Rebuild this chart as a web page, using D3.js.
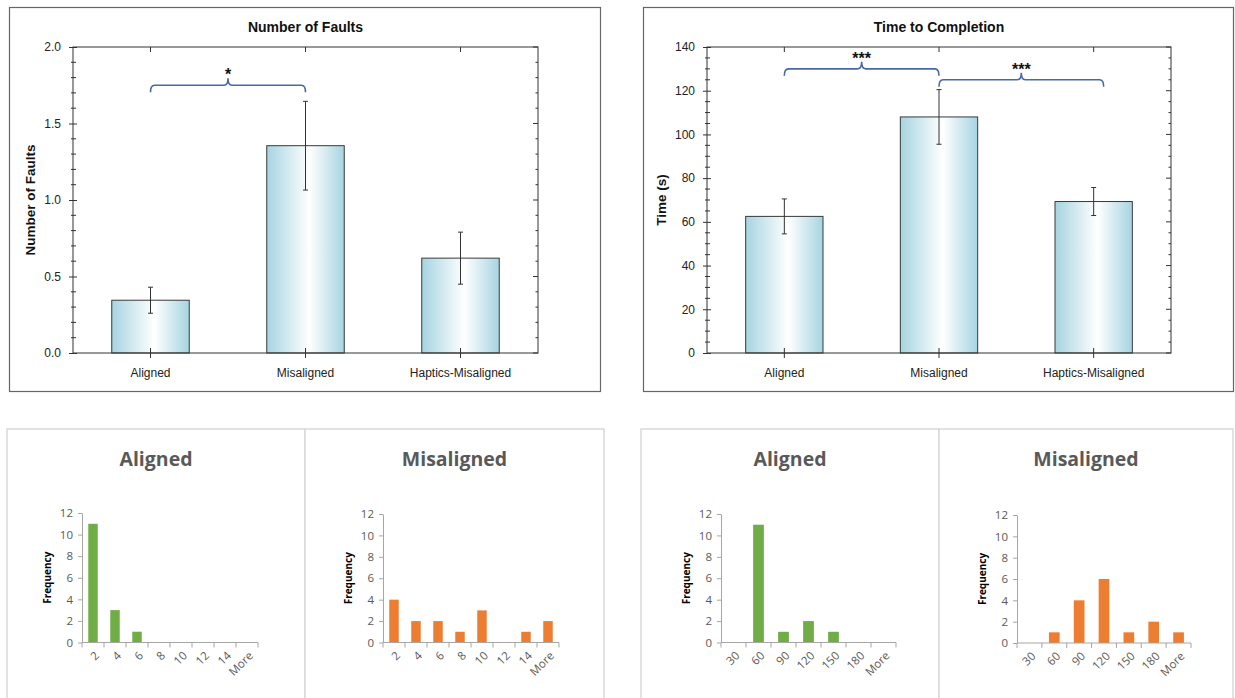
<!DOCTYPE html>
<html>
<head>
<meta charset="utf-8">
<script src="https://cdn.jsdelivr.net/npm/d3@7"></script>
<style>
  html, body { margin: 0; padding: 0; background: #fff; }
  svg { display: block; }
</style>
</head>
<body>
<svg id="chart" width="1235" height="698"></svg>
<script>
// ---- Summary bar charts (mean ± SE) ----
const conditions = ["Aligned", "Misaligned", "Haptics-Misaligned"];
const faultMeans = [0.345, 1.355, 0.62];
const faultErrors = [0.085, 0.29, 0.17];
const faultTicks = [0, 0.5, 1.0, 1.5, 2.0];
const timeMeans = [62.5, 108, 69.3];
const timeErrors = [8, 12.5, 6.4];
const timeTicks = [0, 20, 40, 60, 80, 100, 120, 140];

// significance brackets: from / to condition index, height in data units
const faultBrackets = [{ from: 0, to: 1, level: 1.75, label: "*" }];
const timeBrackets = [
  { from: 0, to: 1, level: 130, label: "***" },
  { from: 1, to: 2, level: 125, label: "***" }
];

// ---- Histograms ----
const faultBins = ["2", "4", "6", "8", "10", "12", "14", "More"];
const faultAlignedFreq = [11, 3, 1, 0, 0, 0, 0, 0];
const faultMisalignedFreq = [4, 2, 2, 1, 3, 0, 1, 2];
const timeBins = ["30", "60", "90", "120", "150", "180", "More"];
const timeAlignedFreq = [0, 11, 1, 2, 1, 0, 0];
const timeMisalignedFreq = [0, 1, 4, 6, 1, 2, 1];
const freqTicks = [0, 2, 4, 6, 8, 10, 12];

const svg = d3.select("#chart");

// horizontal glassy gradient used for the summary bars
const grad = svg.append("defs").append("linearGradient")
  .attr("id", "barGrad").attr("x1", "0%").attr("x2", "100%").attr("y1", "0%").attr("y2", "0%");
grad.append("stop").attr("offset", "0%").attr("stop-color", "#a6d4e1");
grad.append("stop").attr("offset", "55%").attr("stop-color", "#ffffff");
grad.append("stop").attr("offset", "100%").attr("stop-color", "#a6d4e1");

function summaryChart(cfg) {
  const g = svg.append("g");
  // outer frame
  g.append("rect").attr("x", cfg.frame[0] + 0.5).attr("y", cfg.frame[1] + 0.5)
    .attr("width", cfg.frame[2]).attr("height", cfg.frame[3])
    .attr("fill", "none").attr("stroke", "#666").attr("stroke-width", 1.2);

  const left = cfg.plot[0], right = cfg.plot[1], top = cfg.plot[2], bottom = cfg.plot[3];
  const x = d3.scaleBand().domain(conditions).range([left, right])
    .paddingInner(0.5).paddingOuter(0.25);
  const y = d3.scaleLinear().domain(cfg.domain).range([bottom, top]);
  const cx = d => x(d) + x.bandwidth() / 2;

  // bars
  g.selectAll("rect.bar").data(conditions).join("rect")
    .attr("class", "bar")
    .attr("x", d => x(d)).attr("width", x.bandwidth())
    .attr("y", (d, i) => y(cfg.means[i]))
    .attr("height", (d, i) => y(0) - y(cfg.means[i]))
    .attr("fill", "url(#barGrad)").attr("stroke", "#3a3a3a").attr("stroke-width", 1);

  // error bars
  const eb = g.selectAll("g.err").data(conditions).join("g").attr("class", "err")
    .attr("stroke", "#333").attr("stroke-width", 1);
  eb.append("line").attr("x1", cx).attr("x2", cx)
    .attr("y1", (d, i) => y(cfg.means[i] + cfg.errors[i]))
    .attr("y2", (d, i) => y(cfg.means[i] - cfg.errors[i]));
  eb.append("line").attr("x1", d => cx(d) - 2.5).attr("x2", d => cx(d) + 2.5)
    .attr("y1", (d, i) => y(cfg.means[i] + cfg.errors[i]))
    .attr("y2", (d, i) => y(cfg.means[i] + cfg.errors[i]));
  eb.append("line").attr("x1", d => cx(d) - 2.5).attr("x2", d => cx(d) + 2.5)
    .attr("y1", (d, i) => y(cfg.means[i] - cfg.errors[i]))
    .attr("y2", (d, i) => y(cfg.means[i] - cfg.errors[i]));

  // plot box lines
  g.append("rect").attr("x", left).attr("y", top).attr("width", right - left).attr("height", bottom - top)
    .attr("fill", "none").attr("stroke", "#333").attr("stroke-width", 1);

  // left axis: major ticks with labels, crossing the spine
  const yl = g.append("g").attr("transform", `translate(${left},0)`)
    .call(d3.axisLeft(y).tickValues(cfg.ticks).tickFormat(cfg.fmt).tickSize(4).tickPadding(8));
  yl.select(".domain").remove();
  yl.selectAll(".tick line").attr("x1", -4).attr("x2", 4).attr("stroke", "#333");
  yl.selectAll(".tick text").attr("font-family", "Liberation Sans, Arial, sans-serif")
    .attr("font-size", 12).attr("fill", "#222");
  // minor ticks
  const minors = d3.range(cfg.domain[0], cfg.domain[1] + cfg.minor / 2, cfg.minor)
    .filter(v => !cfg.ticks.some(t => Math.abs(t - v) < cfg.minor / 10));
  g.selectAll("line.minorL").data(minors).join("line").attr("class", "minorL")
    .attr("x1", left - 2).attr("x2", left + 3).attr("y1", d => y(d)).attr("y2", d => y(d))
    .attr("stroke", "#333");
  // right mirror ticks
  g.selectAll("line.majorR").data(cfg.ticks).join("line").attr("class", "majorR")
    .attr("x1", right - 5).attr("x2", right).attr("y1", d => y(d)).attr("y2", d => y(d))
    .attr("stroke", "#333");
  g.selectAll("line.minorR").data(minors).join("line").attr("class", "minorR")
    .attr("x1", right - 2.5).attr("x2", right).attr("y1", d => y(d)).attr("y2", d => y(d))
    .attr("stroke", "#333");

  // bottom axis
  const xb = g.append("g").attr("transform", `translate(0,${bottom})`)
    .call(d3.axisBottom(x).tickSize(5).tickPadding(10));
  xb.select(".domain").remove();
  xb.selectAll(".tick line").attr("y1", -5).attr("y2", 5).attr("stroke", "#333");
  xb.selectAll(".tick text").attr("font-family", "Liberation Sans, Arial, sans-serif")
    .attr("font-size", 12).attr("fill", "#222");
  // top ticks
  g.selectAll("line.topT").data(conditions).join("line").attr("class", "topT")
    .attr("x1", cx).attr("x2", cx).attr("y1", top).attr("y2", top + 5).attr("stroke", "#333");

  // title
  g.append("text").attr("x", (left + right) / 2).attr("y", 32).attr("text-anchor", "middle")
    .attr("font-family", "Liberation Sans, Arial, sans-serif").attr("font-weight", "bold")
    .attr("font-size", 14).attr("fill", "#111").text(cfg.title);
  // y label
  g.append("text").attr("transform", `translate(${cfg.ylabelX},${(top + bottom) / 2}) rotate(-90)`)
    .attr("text-anchor", "middle").attr("dy", "0.35em")
    .attr("font-family", "Liberation Sans, Arial, sans-serif").attr("font-weight", "bold")
    .attr("font-size", 13.5).attr("fill", "#111").text(cfg.ylabel);

  // significance brackets
  cfg.brackets.forEach(b => {
    const x1 = cx(conditions[b.from]);
    const x2 = cx(conditions[b.to]) + (b.endShift || 0);
    const yy = y(b.level), xm = (x1 + x2) / 2;
    const p = d3.path();
    p.moveTo(x1, yy + 7);
    p.quadraticCurveTo(x1, yy, x1 + 4, yy);
    p.lineTo(xm - 4, yy);
    p.quadraticCurveTo(xm, yy, xm, yy - 7);
    p.quadraticCurveTo(xm, yy, xm + 4, yy);
    p.lineTo(x2 - 4, yy);
    p.quadraticCurveTo(x2, yy, x2, yy + 7);
    g.append("path").attr("d", p.toString()).attr("fill", "none")
      .attr("stroke", "#4a67a6").attr("stroke-width", 1.6);
    g.append("text").attr("x", xm).attr("y", yy - 5).attr("text-anchor", "middle")
      .attr("font-family", "Liberation Sans, Arial, sans-serif").attr("font-weight", "bold")
      .attr("font-size", 16).attr("fill", "#111").text(b.label);
  });
}

summaryChart({
  frame: [9, 7, 591, 384], plot: [73, 538, 47, 353], domain: [0, 2.0],
  ticks: faultTicks, minor: 0.1, fmt: d3.format(".1f"),
  means: faultMeans, errors: faultErrors, brackets: faultBrackets,
  title: "Number of Faults", ylabel: "Number of Faults", ylabelX: 30
});
summaryChart({
  frame: [643, 7, 590, 384], plot: [707, 1171, 47, 353], domain: [0, 140],
  ticks: timeTicks, minor: 5, fmt: d3.format("d"),
  means: timeMeans, errors: timeErrors,
  brackets: timeBrackets.map((b, i) => i === 1 ? Object.assign({}, b, { endShift: 10 }) : b),
  title: "Time to Completion", ylabel: "Time (s)", ylabelX: 661
});

// ---- histogram panels ----
function histogram(cfg) {
  const g = svg.append("g");
  g.append("rect").attr("x", cfg.panel[0]).attr("y", cfg.panel[1])
    .attr("width", cfg.panel[2]).attr("height", cfg.panel[3])
    .attr("fill", "#fff").attr("stroke", "#d9d9d9").attr("stroke-width", 1.5);

  const left = cfg.axisX, right = cfg.axisX + cfg.width, top = cfg.top, bottom = cfg.bottom;
  const x = d3.scaleBand().domain(cfg.bins).range([left, right]);
  const y = d3.scaleLinear().domain([0, 12]).range([bottom, top]);
  const bw = x.bandwidth() * 0.43;

  g.selectAll("rect.hbar").data(cfg.bins).join("rect").attr("class", "hbar")
    .attr("x", d => x(d) + (x.bandwidth() - bw) / 2).attr("width", bw)
    .attr("y", (d, i) => y(cfg.freq[i])).attr("height", (d, i) => y(0) - y(cfg.freq[i]))
    .attr("fill", cfg.color);

  // y axis
  const ya = g.append("g").attr("transform", `translate(${left},0)`)
    .call(d3.axisLeft(y).tickValues(freqTicks).tickSize(4).tickSizeOuter(0).tickPadding(5));
  ya.select(".domain").attr("stroke", "#a6a6a6");
  ya.selectAll(".tick line").attr("stroke", "#a6a6a6");
  ya.selectAll(".tick text").attr("font-family", "Open Sans, sans-serif").attr("font-size", 11.5)
    .attr("fill", "#595959");

  // x axis with ticks on bin boundaries
  g.append("line").attr("x1", left).attr("x2", right).attr("y1", bottom).attr("y2", bottom)
    .attr("stroke", "#a6a6a6");
  const bounds = cfg.bins.map(d => x(d)).concat([right]);
  g.selectAll("line.bt").data(bounds).join("line").attr("class", "bt")
    .attr("x1", d => d).attr("x2", d => d).attr("y1", bottom).attr("y2", bottom + 5)
    .attr("stroke", "#a6a6a6");
  g.selectAll("text.bl").data(cfg.bins).join("text").attr("class", "bl")
    .attr("transform", d => `translate(${x(d) + x.bandwidth() / 2 + 4},${bottom + 11}) rotate(-45)`)
    .attr("text-anchor", "end").attr("dy", "0.35em")
    .attr("font-family", "Open Sans, sans-serif").attr("font-size", 11.5).attr("fill", "#595959")
    .text(d => d);

  g.append("text").attr("x", cfg.panel[0] + cfg.panel[2] / 2).attr("y", 466)
    .attr("text-anchor", "middle").attr("font-family", "Open Sans, sans-serif")
    .attr("font-weight", "bold").attr("font-size", 19.5).attr("fill", "#595959").text(cfg.title);
  g.append("text").attr("transform", `translate(${left - 35},${(top + bottom) / 2}) rotate(-90)`)
    .attr("text-anchor", "middle").attr("dy", "0.35em")
    .attr("font-family", "Open Sans, sans-serif").attr("font-weight", "bold")
    .attr("font-size", 10).attr("fill", "#000").text("Frequency");
}

histogram({ panel: [7, 429, 298, 280], axisX: 82, width: 176, top: 513, bottom: 642.5,
  bins: faultBins, freq: faultAlignedFreq, color: "#70ad47", title: "Aligned" });
histogram({ panel: [305, 429, 299, 280], axisX: 383, width: 176, top: 514, bottom: 642.5,
  bins: faultBins, freq: faultMisalignedFreq, color: "#ed7d31", title: "Misaligned" });
histogram({ panel: [641, 429, 298, 280], axisX: 721, width: 175, top: 514, bottom: 642.5,
  bins: timeBins, freq: timeAlignedFreq, color: "#70ad47", title: "Aligned" });
histogram({ panel: [939, 429, 294, 280], axisX: 1017, width: 174, top: 515, bottom: 643,
  bins: timeBins, freq: timeMisalignedFreq, color: "#ed7d31", title: "Misaligned" });
</script>
</body>
</html>
